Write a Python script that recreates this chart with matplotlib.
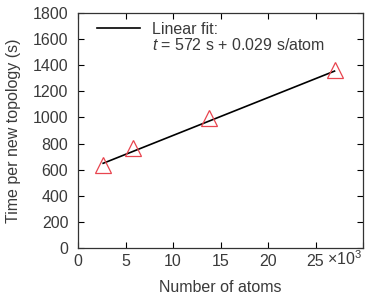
import matplotlib
matplotlib.use('Agg')
import matplotlib.pyplot as plt
from matplotlib.lines import Line2D
import numpy as np

# data (x in thousands of atoms)
n_atoms = [2.65, 5.75, 13.75, 27.0]
t_topology = [636, 763, 995, 1363]

# linear fit: t = 572 s + 0.029 s/atom
fit_intercept = 572
fit_slope = 0.029 * 1000  # per thousand atoms
fit_x = [2.65, 27.0]

xticks = [0, 5, 10, 15, 20, 25]
yticks = [0, 200, 400, 600, 800, 1000, 1200, 1400, 1600, 1800]

plt.rcParams['font.family'] = ['Liberation Sans', 'DejaVu Sans']
plt.rcParams['mathtext.fontset'] = 'custom'
plt.rcParams['mathtext.it'] = 'Liberation Sans:italic'
plt.rcParams['mathtext.rm'] = 'Liberation Sans'
txt = '#3a3a3a'
fs = 11.5

fig = plt.figure(figsize=(3.72, 2.95), dpi=100)
ax = fig.add_axes([78/372, 1 - 248/295, (363-78)/372, (248-13)/295])

fx = np.array(fit_x)
ax.plot(fx, fit_intercept + fit_slope * fx, color='black', lw=1.2)
ax.plot(n_atoms, t_topology, linestyle='none', marker='^', markersize=11,
        markerfacecolor='none', markeredgecolor='#e8454f', markeredgewidth=0.9)

ax.set_xlim(0, 30)
ax.set_ylim(0, 1800)
ax.set_xticks(xticks + [30])
ax.set_xticklabels([str(v) for v in xticks] + [''])
ax.set_yticks(yticks)
ax.tick_params(direction='in', top=True, right=True, length=4.5, width=0.8,
               labelsize=fs, labelcolor=txt)
ax.tick_params(axis='x', pad=4)
ax.tick_params(axis='y', pad=7)
for s in ax.spines.values():
    s.set_linewidth(0.9)
    s.set_color('#333333')

# x10^3 multiplier next to the last tick label
ax.annotate(r'$\times$10$^{3}$', xy=(26.2, 0), xycoords='data',
            xytext=(0, -12.3), textcoords='offset points',
            fontsize=fs, color=txt, ha='left', va='baseline')

ax.set_xlabel('Number of atoms', fontsize=fs, color=txt, labelpad=8.5)
ax.set_ylabel('Time per new topology (s)', fontsize=fs, color=txt, labelpad=8.5)

handles = [Line2D([], [], color='black', lw=1.2), Line2D([], [], color='none')]
labels = ['Linear fit:', '$t$ = 572 s + 0.029 s/atom']
ax.legend(handles, labels, loc='upper left', frameon=False, fontsize=fs,
          handlelength=2.7, labelspacing=0.0, borderaxespad=0.0,
          handletextpad=0.7, labelcolor=txt, bbox_to_anchor=(0.045, 0.99))

fig.savefig('out.png', dpi=100)
